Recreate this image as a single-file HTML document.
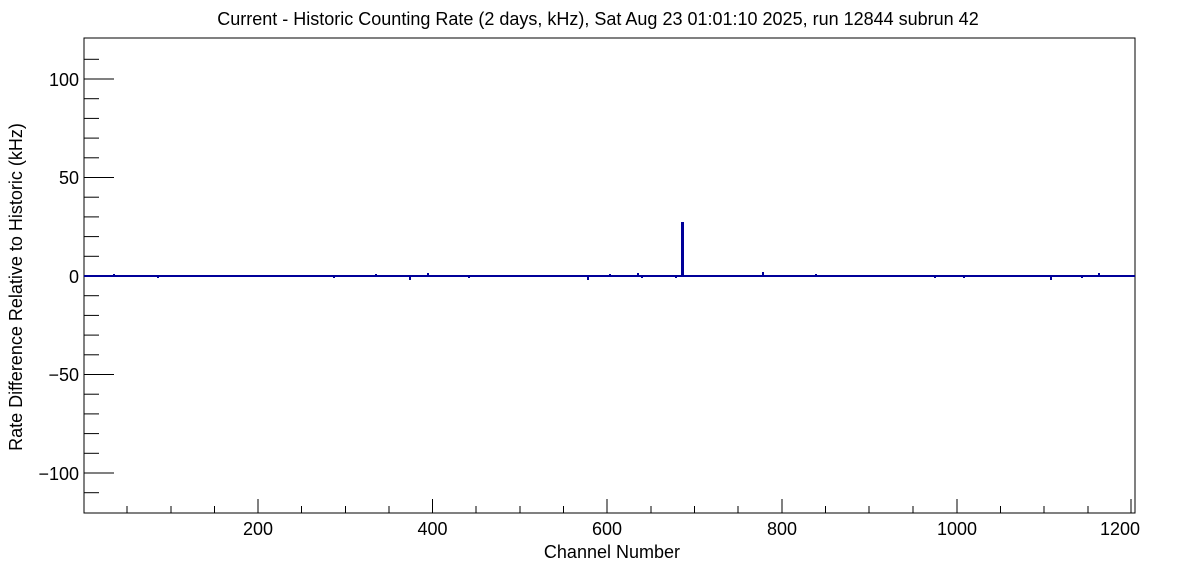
<!DOCTYPE html>
<html><head><style>body{margin:0;background:#fff}svg{display:block}text{font-family:"Liberation Sans",sans-serif}</style></head>
<body>
<svg width="1196" height="572" xmlns="http://www.w3.org/2000/svg">
<rect width="1196" height="572" fill="#fff"/>
<text x="598" y="25" font-size="18" text-anchor="middle">Current - Historic Counting Rate (2 days, kHz), Sat Aug 23 01:01:10 2025, run 12844 subrun 42</text>
<rect x="84" y="38" width="1051" height="475" fill="none" stroke="#000" stroke-width="1"/>
<g stroke="#000" stroke-width="1">
<line x1="84" x2="114" y1="79" y2="79"/><line x1="84" x2="114" y1="177.5" y2="177.5"/><line x1="84" x2="114" y1="276" y2="276"/><line x1="84" x2="114" y1="374.5" y2="374.5"/><line x1="84" x2="114" y1="473" y2="473"/>
<line x1="84" x2="99" y1="59.3" y2="59.3"/><line x1="84" x2="99" y1="98.7" y2="98.7"/><line x1="84" x2="99" y1="118.4" y2="118.4"/><line x1="84" x2="99" y1="138.1" y2="138.1"/><line x1="84" x2="99" y1="157.8" y2="157.8"/>
<line x1="84" x2="99" y1="197.2" y2="197.2"/><line x1="84" x2="99" y1="216.9" y2="216.9"/><line x1="84" x2="99" y1="236.6" y2="236.6"/><line x1="84" x2="99" y1="256.3" y2="256.3"/>
<line x1="84" x2="99" y1="295.7" y2="295.7"/><line x1="84" x2="99" y1="315.4" y2="315.4"/><line x1="84" x2="99" y1="335.1" y2="335.1"/><line x1="84" x2="99" y1="354.8" y2="354.8"/>
<line x1="84" x2="99" y1="394.2" y2="394.2"/><line x1="84" x2="99" y1="413.9" y2="413.9"/><line x1="84" x2="99" y1="433.6" y2="433.6"/><line x1="84" x2="99" y1="453.3" y2="453.3"/>
<line x1="84" x2="99" y1="492.7" y2="492.7"/>
<line x1="258" x2="258" y1="513" y2="499"/><line x1="432.5" x2="432.5" y1="513" y2="499"/><line x1="607" x2="607" y1="513" y2="499"/><line x1="782" x2="782" y1="513" y2="499"/><line x1="957" x2="957" y1="513" y2="499"/><line x1="1131" x2="1131" y1="513" y2="499"/>
<line x1="127" x2="127" y1="513" y2="506"/><line x1="171" x2="171" y1="513" y2="506"/><line x1="214.5" x2="214.5" y1="513" y2="506"/>
<line x1="301.5" x2="301.5" y1="513" y2="506"/><line x1="345.5" x2="345.5" y1="513" y2="506"/><line x1="389" x2="389" y1="513" y2="506"/>
<line x1="476" x2="476" y1="513" y2="506"/><line x1="520" x2="520" y1="513" y2="506"/><line x1="563.5" x2="563.5" y1="513" y2="506"/>
<line x1="651" x2="651" y1="513" y2="506"/><line x1="694.5" x2="694.5" y1="513" y2="506"/><line x1="738" x2="738" y1="513" y2="506"/>
<line x1="825.5" x2="825.5" y1="513" y2="506"/><line x1="869" x2="869" y1="513" y2="506"/><line x1="913" x2="913" y1="513" y2="506"/>
<line x1="1000.5" x2="1000.5" y1="513" y2="506"/><line x1="1044" x2="1044" y1="513" y2="506"/><line x1="1088" x2="1088" y1="513" y2="506"/>
</g>
<g font-size="18" text-anchor="end">
<text x="79" y="86">100</text><text x="79" y="184">50</text><text x="79" y="283">0</text><text x="79" y="381">−50</text><text x="79" y="480">−100</text>
</g>
<g font-size="18" text-anchor="middle">
<text x="258" y="535">200</text><text x="432.5" y="535">400</text><text x="607" y="535">600</text><text x="782" y="535">800</text><text x="957" y="535">1000</text><text x="1120" y="535">1200</text>
</g>
<text x="680" y="558" font-size="18" text-anchor="end">Channel Number</text>
<text transform="translate(22,287) rotate(-90)" font-size="18" text-anchor="middle">Rate Difference Relative to Historic (kHz)</text>
<g fill="#000099">
<rect x="84" y="275" width="1051" height="2"/>
<rect x="681" y="222" width="3" height="54"/>
<rect x="113" y="274" width="2" height="2"/><rect x="157" y="276" width="2" height="2"/><rect x="333" y="276" width="2" height="2"/>
<rect x="375" y="274" width="2" height="2"/><rect x="409" y="276" width="2" height="4"/><rect x="427" y="273" width="2" height="3"/>
<rect x="468" y="276" width="2" height="2"/><rect x="587" y="276" width="2" height="4"/><rect x="609" y="274" width="2" height="2"/>
<rect x="637" y="273" width="2" height="3"/><rect x="641" y="276" width="2" height="2"/><rect x="675" y="276" width="2" height="2"/>
<rect x="762" y="272" width="2" height="4"/><rect x="815" y="274" width="2" height="2"/><rect x="934" y="276" width="2" height="2"/>
<rect x="963" y="276" width="2" height="2"/><rect x="1050" y="276" width="2" height="4"/><rect x="1081" y="276" width="2" height="2"/>
<rect x="1098" y="273" width="2" height="3"/>
</g>
</svg>
</body></html>
